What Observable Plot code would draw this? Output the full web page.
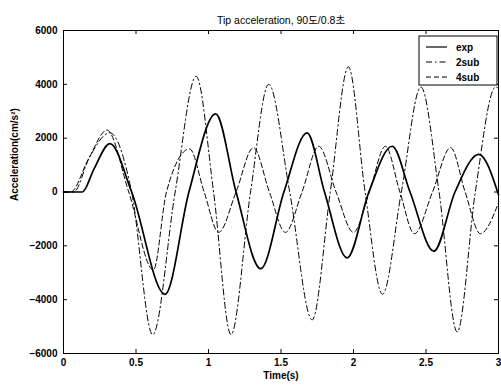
<!DOCTYPE html>
<html><head><meta charset="utf-8">
<script src="https://cdn.jsdelivr.net/npm/d3@7"></script>
<script src="https://cdn.jsdelivr.net/npm/@observablehq/plot@0.6"></script>
<style>body{margin:0;background:#fff;}</style>
</head><body><div id="chart"></div>
<script>
const title = "Tip acceleration, 90도/0.8초";
const xLabel = "Time(s)";
const yLabel = "Acceleration(cm/s²)";
const series = ["exp", "2sub", "4sub"];
const xTicks = [0, 0.5, 1, 1.5, 2, 2.5, 3];
const yTicks = [-6000, -4000, -2000, 0, 2000, 4000, 6000];

const expT = [0, 0.13, 0.21, 0.32, 0.47, 0.70, 0.865, 1.05, 1.19, 1.36, 1.52, 1.68, 1.80, 1.956, 2.106, 2.267, 2.39, 2.554, 2.70, 2.864, 3.0];
const expV = [0, 0, 850, 1800, 0, -3800, 0, 2900, 0, -2850, 0, 2200, 0, -2450, 0, 1700, 0, -2200, 0, 1400, -100];

const sub2T = [0, 0.07, 0.18, 0.32, 0.47, 0.615, 0.77, 0.915, 1.035, 1.155, 1.29, 1.415, 1.56, 1.715, 1.84, 1.965, 2.08, 2.2, 2.33, 2.465, 2.59, 2.715, 2.84, 2.98, 3.0];
const sub2V = [0, 0, 1300, 2200, 0, -5300, 0, 4300, 0, -5300, 0, 4000, 0, -4750, 0, 4650, 0, -3800, 0, 3900, 0, -5200, 0, 3900, 3850];

const sub4T = [0, 0.05, 0.17, 0.30, 0.45, 0.62, 0.71, 0.87, 0.97, 1.07, 1.19, 1.31, 1.42, 1.53, 1.645, 1.76, 1.88, 2.0, 2.11, 2.22, 2.32, 2.42, 2.545, 2.67, 2.77, 2.875, 3.0];
const sub4V = [0, 0, 1200, 2300, 0, -2900, 0, 1600, 0, -1500, 0, 1650, 0, -1500, 0, 1700, 0, -1500, 0, 1700, 0, -1550, 0, 1650, 0, -1550, -400];

const styles = {
  "exp": {strokeWidth: 1.7, dash: null},
  "2sub": {strokeWidth: 1, dash: "6,3,1.5,3"},
  "4sub": {strokeWidth: 1, dash: "5,3"}
};

const rows = [];
[[expT, expV], [sub2T, sub2V], [sub4T, sub4V]].forEach(([T, V], i) => {
  T.forEach((t, j) => rows.push({series: series[i], t, v: V[j]}));
});

const W = 501, H = 387, mL = 63, mR = 3, mT = 30, mB = 34;
const pw = W - mL - mR, ph = H - mT - mB;
const font = "'Liberation Sans', Arial, 'Noto Sans CJK KR', sans-serif";

const lineMarks = series.map(s => Plot.line(rows.filter(r => r.series === s), {
  x: "t", y: "v", curve: "monotone-x", stroke: "black",
  strokeWidth: styles[s].strokeWidth, strokeDasharray: styles[s].dash
}));

const chart = Plot.plot({
  width: W, height: H,
  marginLeft: mL, marginRight: mR, marginTop: mT, marginBottom: mB,
  style: {fontFamily: font, fontSize: "10px", fontWeight: "bold", background: "white", color: "black"},
  x: {domain: [0, 3]},
  y: {domain: [-6000, 6000]},
  marks: [
    ...lineMarks,
    Plot.frame({stroke: "black", strokeWidth: 1}),
    Plot.axisX({ticks: xTicks, tickSize: 0, tickPadding: 5, label: null, tickFormat: d => String(d)}),
    Plot.axisY({ticks: yTicks, tickSize: 0, tickPadding: 6, label: null, tickFormat: d3.format("d")}),
    Plot.ruleX(xTicks, {x: d => d, insetTop: ph - 4, stroke: "black"}),
    Plot.ruleX(xTicks, {x: d => d, insetBottom: ph - 4, stroke: "black"}),
    Plot.ruleY(yTicks, {y: d => d, insetRight: pw - 4, stroke: "black"}),
    Plot.ruleY(yTicks, {y: d => d, insetLeft: pw - 4, stroke: "black"}),
    Plot.text([title], {text: d => d, frameAnchor: "top", dy: -14, fontSize: 10.5, fontWeight: "normal"}),
    Plot.text([xLabel], {text: d => d, frameAnchor: "bottom", dy: 25, fontSize: 10}),
    Plot.text([yLabel], {text: d => d, frameAnchor: "left", dx: -49, dy: 9, rotate: -90, fontSize: 10})
  ]
});
document.getElementById("chart").appendChild(chart);

// legend
const svg = d3.select(chart);
const lg = svg.append("g");
const bx = 419, by = 36, bw = 78, bh = 49;
lg.append("rect").attr("x", bx).attr("y", by).attr("width", bw).attr("height", bh)
  .attr("fill", "white").attr("stroke", "black").attr("stroke-width", 1);
series.forEach((s, i) => {
  const yy = by + 11 + i * 15;
  lg.append("line").attr("x1", bx + 7).attr("x2", bx + 28).attr("y1", yy).attr("y2", yy)
    .attr("stroke", "black").attr("stroke-width", styles[s].strokeWidth > 1 ? 1.2 : 1)
    .attr("stroke-dasharray", styles[s].dash);
  lg.append("text").attr("x", bx + 37).attr("y", yy).attr("dy", "0.35em")
    .attr("text-anchor", "start")
    .attr("font-family", font).attr("font-size", 10).attr("font-weight", "bold").text(s);
});
</script></body></html>
